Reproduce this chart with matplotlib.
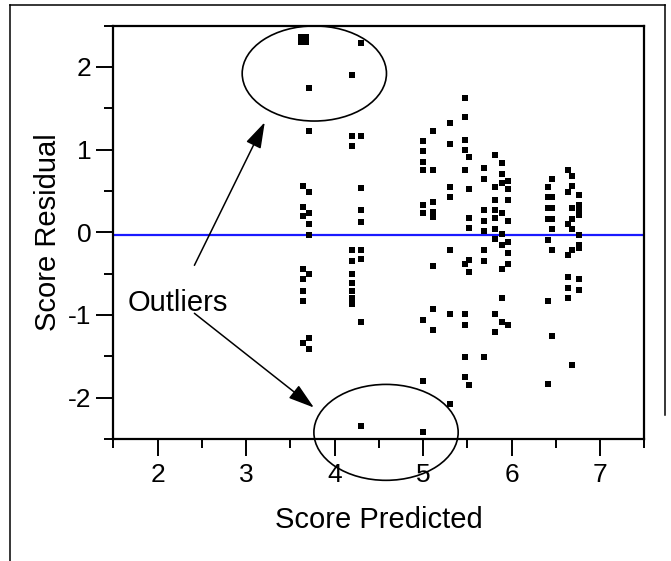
import matplotlib
matplotlib.use("Agg")
import matplotlib.pyplot as plt
from matplotlib.patches import Ellipse
from matplotlib.lines import Line2D
from matplotlib.ticker import MultipleLocator

plt.rcParams['font.family'] = ['Liberation Sans', 'DejaVu Sans']
plt.rcParams['axes.unicode_minus'] = False

# residual points
score_predicted = (
    [3.62, 3.68, 3.62, 3.68, 3.65]
    + [3.64] * 8
    + [3.71] * 9
    + [4.19] * 10
    + [4.30] * 9
    + [4.995] * 9
    + [5.115] * 8
    + [5.30] * 7
    + [5.47] * 10
    + [5.52] * 7
    + [5.69] * 8
    + [5.81] * 9
    + [5.89] * 9
    + [5.96] * 8
    + [6.41] * 7
    + [6.45] * 7
    + [6.64] * 7
    + [6.68] * 7
    + [6.76] * 9
)
score_residual = (
    [2.36, 2.36, 2.30, 2.30, 2.33]
    + [0.56, 0.30, 0.20, -0.44, -0.57, -0.71, -0.83, -1.34]
    + [1.74, 1.23, 0.49, 0.23, 0.10, -0.03, -0.51, -1.28, -1.41]
    + [1.90, 1.17, 1.04, -0.22, -0.35, -0.51, -0.61, -0.71, -0.80, -0.87]
    + [2.29, 1.17, 0.53, 0.265, 0.13, -0.22, -0.32, -1.08, -2.34]
    + [1.10, 0.98, 0.85, 0.75, 0.33, 0.23, -1.06, -1.80, -2.41]
    + [1.23, 0.75, 0.36, 0.24, 0.19, -0.41, -0.93, -1.18]
    + [1.32, 1.07, 0.55, 0.43, -0.22, -0.99, -2.08]
    + [1.62, 1.39, 1.11, 1.00, 0.75, -0.38, -0.99, -1.12, -1.51, -1.75]
    + [0.91, 0.52, 0.17, 0.05, -0.34, -0.48, -1.85]
    + [0.78, 0.65, 0.265, 0.14, 0.01, -0.22, -0.35, -1.51]
    + [0.94, 0.55, 0.39, 0.265, 0.17, 0.045, -0.08, -0.99, -1.21]
    + [0.84, 0.71, 0.60, 0.23, -0.02, -0.15, -0.45, -0.80, -1.08]
    + [0.62, 0.52, 0.39, 0.14, -0.12, -0.25, -0.38, -1.12]
    + [0.55, 0.43, 0.29, 0.165, -0.09, -0.83, -1.83]
    + [0.65, 0.43, 0.29, 0.165, 0.04, -0.22, -1.25]
    + [0.75, 0.49, 0.105, -0.28, -0.54, -0.67, -0.80]
    + [0.68, 0.56, 0.29, 0.165, 0.045, -0.22, -1.60]
    + [0.45, 0.325, 0.265, 0.205, -0.03, -0.15, -0.19, -0.57, -0.70]
)

mean_residual = -0.03

fig = plt.figure(figsize=(6.71, 5.61), dpi=100)
ax = fig.add_axes([0.169, 0.2175, 0.7915, 0.737])

ax.plot(score_predicted, score_residual, 's', color='black', ms=4.1, mew=0, zorder=3)
ax.axhline(mean_residual, color='#1a1aff', lw=1.6, zorder=2)

# outlier circles + arrows
ax.add_patch(Ellipse((3.77, 1.92), 1.63, 1.15, fill=False, lw=1.2, color='black', clip_on=False))
ax.add_patch(Ellipse((4.58, -2.42), 1.63, 1.16, fill=False, lw=1.2, color='black', clip_on=False))
ax.text(1.66, -0.85, 'Outliers', fontsize=21, ha='left', va='center')
arrow = dict(arrowstyle='-|>,head_length=0.8,head_width=0.25', mutation_scale=20,
             color='black', lw=1.1, shrinkA=0, shrinkB=0)
ax.annotate('', xy=(3.21, 1.33), xytext=(2.415, -0.40), arrowprops=arrow, annotation_clip=False)
ax.annotate('', xy=(3.765, -2.12), xytext=(2.415, -0.98), arrowprops=arrow, annotation_clip=False)

ax.set_xlim(1.5, 7.5)
ax.set_ylim(-2.5, 2.5)
ax.xaxis.set_major_locator(MultipleLocator(1))
ax.xaxis.set_minor_locator(MultipleLocator(0.5))
ax.yaxis.set_major_locator(MultipleLocator(1))
ax.yaxis.set_minor_locator(MultipleLocator(0.5))
ax.tick_params(which='major', direction='out', length=12, width=1.4, labelsize=19)
ax.tick_params(which='minor', direction='out', length=6.5, width=1.4)
ax.tick_params(axis='x', pad=5)
ax.tick_params(axis='y', pad=4)
for sp in ax.spines.values():
    sp.set_linewidth(1.6)

ax.set_xlabel('Score Predicted', fontsize=21)
ax.set_ylabel('Score Residual', fontsize=21)
ax.xaxis.set_label_coords(0.5, -0.162)
ax.yaxis.set_label_coords(-0.096, 0.5)

# outer frame of the original figure
W, H = 671, 561
fig.add_artist(Line2D([9.5 / W, 9.5 / W], [0, 1 - 5 / H], color='black', lw=1.1))
fig.add_artist(Line2D([9.5 / W, 664.5 / W], [1 - 5 / H, 1 - 5 / H], color='black', lw=1.1))
fig.add_artist(Line2D([664.5 / W, 664.5 / W], [1 - 5 / H, 1 - 415 / H], color='black', lw=1.1))

fig.savefig('out.png', dpi=100)
